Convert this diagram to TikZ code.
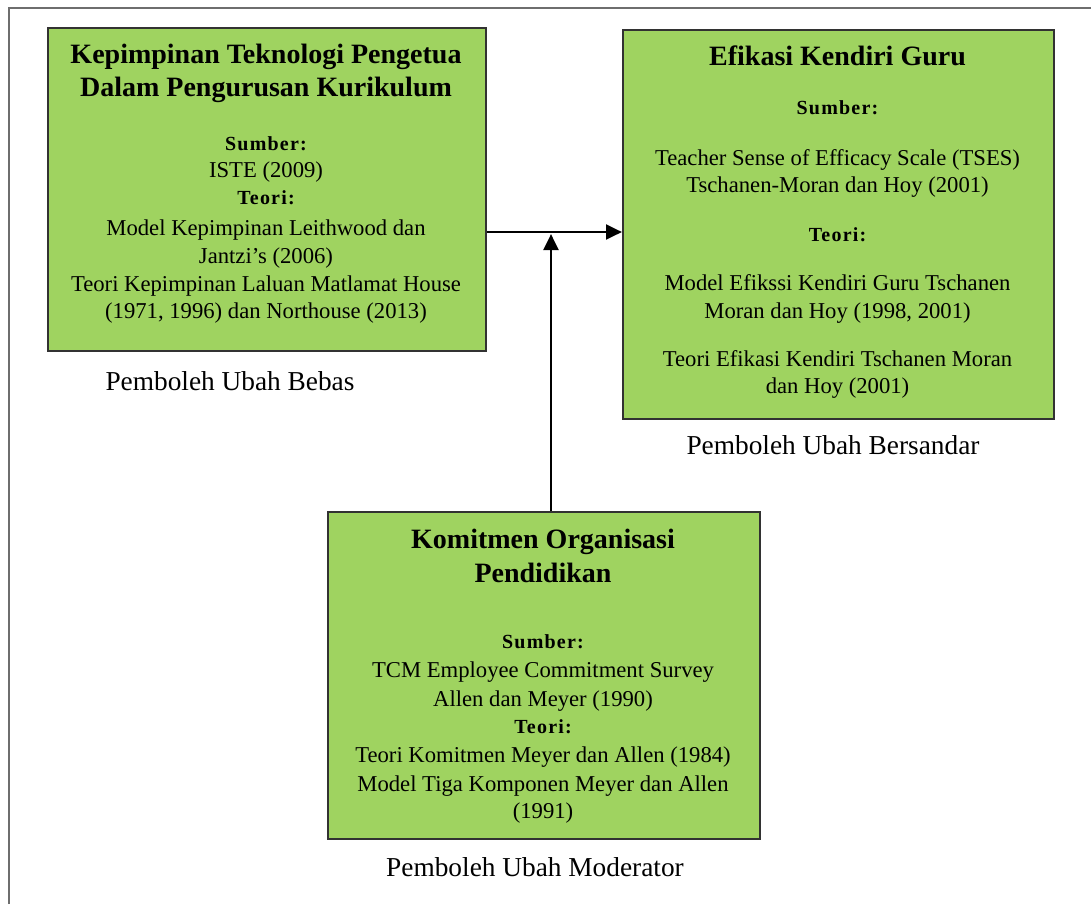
\documentclass[tikz,border=0pt]{standalone}
\usepackage{fontspec}
\setmainfont{Liberation Serif}
\newfontfamily\spacedfont[LetterSpace=6]{Liberation Serif}
\usetikzlibrary{arrows.meta}
\definecolor{boxgreen}{RGB}{159,211,96}
\definecolor{framegray}{RGB}{110,110,110}
\definecolor{edgegray}{RGB}{50,50,50}
\tikzset{
  box/.style={draw=edgegray, line width=1.5pt, fill=boxgreen, anchor=north west, inner sep=0pt},
  frameline/.style={draw=framegray, line width=1.6pt},
  arr/.style={draw=black, line width=2.2pt, -{Triangle[length=12pt,width=11pt]}},
  ttl/.style={font=\bfseries\fontsize{21}{25}\selectfont, anchor=mid, inner sep=0pt, yshift=-4pt},
  hd/.style={font=\spacedfont\bfseries\fontsize{15}{18}\selectfont, anchor=mid, inner sep=0pt, yshift=-3.5pt},
  txt/.style={font=\fontsize{17}{21}\selectfont, anchor=mid, inner sep=0pt, yshift=-4pt},
  lbl/.style={font=\fontsize{20.5}{25}\selectfont, anchor=mid, inner sep=0pt, yshift=-4pt}
}
\begin{document}
\begin{tikzpicture}[x=0.75pt,y=-0.75pt]
\useasboundingbox (0,0) rectangle (1091,904);
\fill[white] (0,0) rectangle (1091,904);
\draw[frameline] (9,904) -- (9,8) -- (1091,8);

% boxes
\node[box, minimum width=328.5pt, minimum height=242.25pt] (b1) at (47,27) {};
\node[box, minimum width=323.25pt, minimum height=291.75pt] (b2) at (622,29) {};
\node[box, minimum width=324pt, minimum height=245.25pt] (b3) at (327,511) {};

% box 1
\node[ttl] (t1a) at (266,55) {Kepimpinan Teknologi Pengetua};
\node[ttl] (t1b) at (266,88) {Dalam Pengurusan Kurikulum};
\node[hd] (s1) at (266,142.7) {Sumber:};
\node[txt] (s1a) at (266,169) {ISTE (2009)};
\node[hd] (r1) at (266,197) {Teori:};
\node[txt] (r1a) at (266,226.7) {Model Kepimpinan Leithwood dan};
\node[txt] (r1b) at (266,255) {Jantzi’s (2006)};
\node[txt] (r1c) at (266,283) {Teori Kepimpinan Laluan Matlamat House};
\node[txt] (r1d) at (266,310.5) {(1971, 1996) dan Northouse (2013)};

% box 2
\node[ttl] (t2a) at (837.5,57) {Efikasi Kendiri Guru};
\node[hd] (s2) at (837.5,107) {Sumber:};
\node[txt] (s2a) at (837.5,156.7) {Teacher Sense of Efficacy Scale (TSES)};
\node[txt] (s2b) at (837.5,184.5) {Tschanen-Moran dan Hoy (2001)};
\node[hd] (r2) at (837.5,234) {Teori:};
\node[txt] (r2a) at (837.5,281.7) {Model Efikssi Kendiri Guru Tschanen};
\node[txt] (r2b) at (837.5,310) {Moran dan Hoy (1998, 2001)};
\node[txt] (r2c) at (837.5,358) {Teori Efikasi Kendiri Tschanen Moran};
\node[txt] (r2d) at (837.5,385.5) {dan Hoy (2001)};

% box 3
\node[ttl] (t3a) at (543,540) {Komitmen Organisasi};
\node[ttl] (t3b) at (543,574) {Pendidikan};
\node[hd] (s3) at (543,640.7) {Sumber:};
\node[txt] (s3a) at (543,669) {TCM Employee Commitment Survey};
\node[txt] (s3b) at (543,698) {Allen dan Meyer (1990)};
\node[hd] (r3) at (543,726) {Teori:};
\node[txt] (r3a) at (543,754) {Teori Komitmen Meyer dan Allen (1984)};
\node[txt] (r3b) at (543,782.7) {Model Tiga Komponen Meyer dan Allen};
\node[txt] (r3c) at (543,810) {(1991)};

% labels
\node[lbl] (l1) at (230,382) {Pemboleh Ubah Bebas};
\node[lbl] (l2) at (833,446) {Pemboleh Ubah Bersandar};
\node[lbl] (l3) at (535,868) {Pemboleh Ubah Moderator};

% connectors
\coordinate (j) at (551,232);
\coordinate (jt) at (551,234);
\draw[arr] (b1.east |- j) -- (b2.west |- j);
\draw[arr] (b3.north -| j) -- (jt);
\end{tikzpicture}
\end{document}
